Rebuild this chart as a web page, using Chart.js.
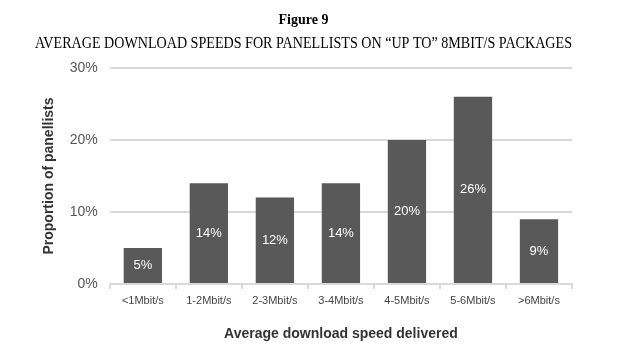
<!DOCTYPE html>
<html>
<head>
<meta charset="utf-8">
<script src="https://cdn.jsdelivr.net/npm/chart.js@4/dist/chart.umd.min.js"></script>
<style>
  html, body { margin: 0; padding: 0; background: #fff; }
  #wrap { width: 640px; height: 350px; }
</style>
</head>
<body>
<div id="wrap"><canvas id="chart"></canvas></div>
<script>
// Chart data
const categories = ["<1Mbit/s", "1-2Mbit/s", "2-3Mbit/s", "3-4Mbit/s", "4-5Mbit/s", "5-6Mbit/s", ">6Mbit/s"];
const shares = [5, 14, 12, 14, 20, 26, 9];
const yTicks = [0, 10, 20, 30];

// white % labels in the middle of each bar
const barLabels = {
  id: 'barLabels',
  afterDatasetsDraw(chart) {
    const ctx = chart.ctx;
    const meta = chart.getDatasetMeta(0);
    ctx.save();
    ctx.fillStyle = '#ffffff';
    ctx.font = '13px "Liberation Sans", Arial, sans-serif';
    ctx.textAlign = 'center';
    ctx.textBaseline = 'middle';
    meta.data.forEach((bar, i) => {
      const mid = (bar.y + bar.base) / 2;
      ctx.fillText(shares[i] + '%', bar.x, mid);
    });
    ctx.restore();
  }
};

new Chart(document.getElementById('chart').getContext('2d'), {
  type: 'bar',
  data: {
    labels: categories,
    datasets: [{ data: shares, backgroundColor: '#595959', categoryPercentage: 1, barPercentage: 0.58 }]
  },
  options: {
    responsive: true,
    maintainAspectRatio: false,
    animation: false,
    layout: { padding: { left: 35, right: 68, top: 0, bottom: 3 } },
    plugins: {
      legend: { display: false },
      tooltip: { enabled: false },
      title: {
        display: true, text: 'Figure 9', color: '#000',
        font: { family: '"Liberation Serif", "Times New Roman", serif', size: 14, weight: 'bold' },
        padding: { top: 12, bottom: 5 }
      },
      subtitle: {
        display: true, text: 'AVERAGE DOWNLOAD SPEEDS FOR PANELLISTS ON \u201CUP TO\u201D 8MBIT/S PACKAGES', color: '#000',
        font: { family: '"Liberation Serif", "Times New Roman", serif', size: 16 },
        padding: { bottom: 15 }
      }
    },
    scales: {
      x: {
        grid: { offset: true, drawOnChartArea: false, tickLength: 5, color: '#d9d9d9', lineWidth: 2 },
        border: { color: '#d9d9d9', width: 2 },
        ticks: { color: '#444', font: { family: '"Liberation Sans", Arial, sans-serif', size: 11 }, padding: 5 },
        title: { display: true, text: 'Average download speed delivered', color: '#333',
          font: { family: '"Liberation Sans", Arial, sans-serif', size: 14, weight: 'bold' }, padding: { top: 14 } }
      },
      y: {
        min: 0, max: 30,
        afterBuildTicks: axis => { axis.ticks = yTicks.map(v => ({ value: v })); },
        grid: { color: '#d9d9d9', lineWidth: 2, drawTicks: false },
        border: { display: false },
        ticks: { color: '#555', font: { family: '"Liberation Sans", Arial, sans-serif', size: 14 }, padding: 12,
          callback: v => v + '%' },
        title: { display: true, text: 'Proportion of panellists', color: '#333',
          font: { family: '"Liberation Sans", Arial, sans-serif', size: 14, weight: 'bold' }, padding: { top: 6, bottom: 0 } }
      }
    }
  },
  plugins: [barLabels]
});
</script>
</body>
</html>
